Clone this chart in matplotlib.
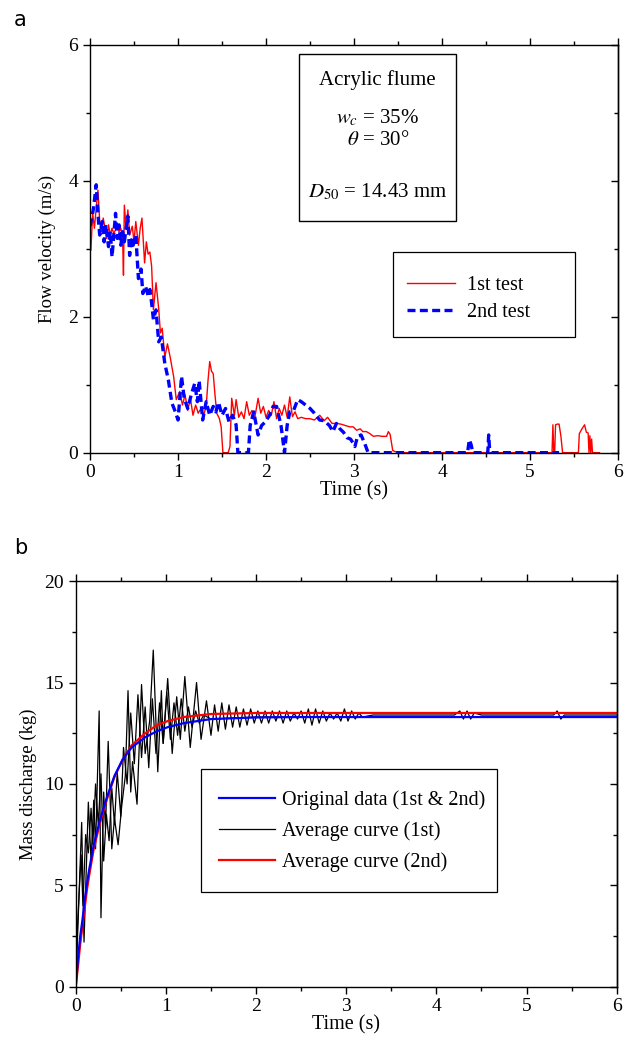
import matplotlib
matplotlib.use('agg')
import matplotlib.pyplot as plt
from matplotlib.patches import Rectangle
from matplotlib.ticker import MultipleLocator

plt.rcParams['font.family'] = ['Liberation Serif', 'DejaVu Serif']
plt.rcParams['mathtext.fontset'] = 'stix'
plt.rcParams['font.size'] = 14

# ---- panel a: flow velocity ----
t1 = [0.01, 0.03, 0.05, 0.07, 0.09, 0.11, 0.13, 0.15, 0.17, 0.19, 0.21, 0.23, 0.25, 0.27, 0.29,
      0.31, 0.33, 0.35, 0.37, 0.38, 0.39, 0.41, 0.43, 0.45, 0.48, 0.50, 0.52, 0.55, 0.57, 0.59,
      0.62, 0.64, 0.66, 0.68, 0.70, 0.72, 0.75, 0.78, 0.80, 0.82, 0.85, 0.88, 0.91, 0.95, 0.98,
      1.02, 1.05, 1.08, 1.11, 1.14, 1.17, 1.20, 1.23, 1.26, 1.29, 1.32, 1.34, 1.36, 1.38, 1.40,
      1.42, 1.44, 1.47, 1.49, 1.51, 1.53, 1.57, 1.59, 1.61, 1.64, 1.66, 1.69, 1.72, 1.75, 1.78,
      1.81, 1.84, 1.87, 1.91, 1.94, 1.97, 2.00, 2.03, 2.06, 2.09, 2.12, 2.15, 2.18, 2.21, 2.24,
      2.27, 2.30, 2.33, 2.36, 2.40, 2.45, 2.50, 2.55, 2.61, 2.66, 2.70, 2.75, 2.80, 2.85, 2.90,
      2.95, 2.99, 3.03, 3.07, 3.10, 3.14, 3.18, 3.22, 3.27, 3.32, 3.37, 3.39, 3.41, 3.44, 3.50,
      4.00, 4.50, 5.00, 5.25, 5.26, 5.27, 5.28, 5.29, 5.31, 5.33, 5.35, 5.37, 5.45, 5.55, 5.56,
      5.59, 5.62, 5.64, 5.66, 5.67, 5.68, 5.69, 5.70, 5.71, 5.75, 5.79]
v1 = [2.98, 3.52, 3.30, 3.60, 3.86, 3.40, 3.25, 3.45, 3.30, 3.15, 3.35, 3.20, 3.30, 3.22, 3.28,
      3.30, 3.25, 3.30, 3.15, 2.61, 3.64, 3.30, 3.57, 3.20, 3.33, 3.10, 3.40, 3.05, 3.30, 3.45,
      2.79, 3.10, 2.92, 2.95, 2.74, 2.10, 2.50, 2.12, 1.76, 1.83, 1.41, 1.60, 1.41, 1.12, 0.78,
      0.90, 0.70, 0.85, 0.62, 0.80, 0.55, 0.70, 0.58, 0.65, 0.55, 0.68, 1.05, 1.34, 1.20, 1.16,
      0.85, 0.58, 0.50, 0.38, 0.00, 0.00, 0.00, 0.09, 0.80, 0.55, 0.78, 0.52, 0.60, 0.50, 0.75,
      0.55, 0.62, 0.50, 0.80, 0.58, 0.68, 0.52, 0.62, 0.55, 0.75, 0.50, 0.65, 0.55, 0.70, 0.52,
      0.82, 0.53, 0.60, 0.50, 0.52, 0.50, 0.50, 0.48, 0.55, 0.47, 0.52, 0.43, 0.43, 0.42, 0.40,
      0.38, 0.38, 0.33, 0.35, 0.31, 0.31, 0.28, 0.24, 0.25, 0.24, 0.24, 0.31, 0.27, 0.03, 0.00,
      0.00, 0.00, 0.00, 0.00, 0.41, 0.00, 0.00, 0.41, 0.42, 0.42, 0.25, 0.00, 0.00, 0.00, 0.28,
      0.35, 0.41, 0.30, 0.29, 0.00, 0.25, 0.00, 0.20, 0.00, 0.00, 0.00]

t2 = [0.00, 0.02, 0.04, 0.07, 0.09, 0.11, 0.14, 0.16, 0.18, 0.21, 0.23, 0.25, 0.27, 0.29, 0.31,
      0.33, 0.35, 0.37, 0.39, 0.41, 0.43, 0.45, 0.47, 0.49, 0.52, 0.55, 0.58, 0.60, 0.63, 0.66,
      0.68, 0.70, 0.72, 0.75, 0.78, 0.81, 0.85, 0.89, 0.93, 0.97, 1.00, 1.04, 1.07, 1.11, 1.15,
      1.19, 1.22, 1.24, 1.28, 1.32, 1.36, 1.40, 1.43, 1.46, 1.50, 1.54, 1.58, 1.62, 1.66, 1.68,
      1.80, 1.82, 1.86, 1.91, 1.95, 1.99, 2.04, 2.08, 2.12, 2.17, 2.21, 2.24, 2.27, 2.31, 2.36,
      2.40, 2.45, 2.50, 2.55, 2.61, 2.66, 2.72, 2.76, 2.80, 2.84, 2.88, 2.92, 2.96, 2.99, 3.01,
      3.04, 3.08, 3.12, 3.16, 3.50, 4.00, 4.29, 4.31, 4.33, 4.35, 4.50, 4.52, 4.53, 4.54, 4.56,
      5.00, 5.33]
v2 = [3.33, 3.45, 3.60, 3.94, 3.50, 3.20, 3.40, 3.10, 3.35, 3.03, 3.25, 2.88, 3.20, 3.52, 3.15,
      3.35, 3.05, 3.25, 3.10, 3.30, 3.48, 2.90, 3.13, 3.05, 3.20, 2.56, 2.70, 2.34, 2.45, 2.31,
      2.40, 2.20, 1.96, 2.10, 1.63, 1.70, 1.31, 1.07, 0.73, 0.60, 0.48, 1.12, 0.80, 0.65, 0.85,
      1.02, 0.75, 1.06, 0.48, 0.75, 0.55, 0.68, 0.60, 0.74, 0.55, 0.65, 0.45, 0.55, 0.41, 0.00,
      0.00, 0.40, 0.60, 0.26, 0.40, 0.45, 0.55, 0.68, 0.68, 0.40, 0.00, 0.40, 0.60, 0.61, 0.78,
      0.75, 0.70, 0.65, 0.58, 0.48, 0.47, 0.40, 0.31, 0.43, 0.35, 0.30, 0.22, 0.20, 0.14, 0.09,
      0.24, 0.26, 0.14, 0.00, 0.00, 0.00, 0.00, 0.19, 0.12, 0.00, 0.00, 0.00, 0.26, 0.05, 0.00,
      0.00, 0.00]

# ---- panel b: mass discharge ----
tb_s = [0.0, 0.025, 0.05, 0.075, 0.1, 0.125, 0.15, 0.2, 0.27, 0.35, 0.43, 0.52, 0.62, 0.77,
        0.9, 1.02, 1.2, 1.5, 2.0, 2.5, 6.0]
mb_blue = [0.0, 1.4, 2.5, 3.3, 4.3, 5.1, 5.8, 7.0, 8.25, 9.4, 10.4, 11.2, 11.8, 12.3,
           12.6, 12.8, 13.0, 13.2, 13.28, 13.3, 13.3]
mb_red = [0.0, 1.0, 2.1, 3.0, 3.9, 4.8, 5.5, 6.8, 8.1, 9.3, 10.35, 11.2, 11.9, 12.5,
          12.9, 13.1, 13.3, 13.45, 13.5, 13.5, 13.5]

tA = [0.0, 0.066, 0.092, 0.14, 0.17, 0.20, 0.22, 0.26, 0.28, 0.31, 0.33, 0.36, 0.40, 0.43,
      0.47, 0.51, 0.55, 0.58, 0.61, 0.63, 0.68, 0.73, 0.77, 0.82, 0.86, 0.91, 0.95, 0.97,
      1.02, 1.07, 1.12, 1.16, 1.21, 1.27, 1.34, 1.39, 1.45, 1.50, 1.54, 1.58, 1.62, 1.66,
      1.70, 1.74, 1.78, 1.82, 1.86, 1.90, 1.94, 1.98, 2.02, 2.06, 2.10, 2.14, 2.18, 2.22,
      2.26, 2.30, 2.34, 2.38, 2.42, 2.46, 2.50, 2.54, 2.58, 2.62, 2.66, 2.70, 2.74, 2.78,
      2.82, 2.86, 2.90, 2.94, 2.98, 3.02, 3.06, 3.10, 3.14, 3.18, 3.30, 4.20, 4.26, 4.30,
      4.34, 4.38, 4.42, 4.50, 5.30, 5.34, 5.38, 5.42, 6.0]
mA_ = [0.0, 8.1, 2.2, 9.1, 6.2, 9.2, 6.8, 13.6, 3.4, 9.6, 7.8, 12.1, 6.8, 8.3,
       7.0, 8.9, 10.4, 14.6, 9.6, 11.1, 9.0, 14.9, 11.5, 13.1, 16.6, 10.6, 14.6, 12.0,
       15.2, 11.5, 14.3, 12.2, 15.3, 11.8, 15.0, 12.2, 14.1, 12.4, 13.9, 12.6, 14.0, 12.7,
       13.9, 12.8, 13.8, 12.8, 13.7, 12.9, 13.7, 13.0, 13.6, 13.0, 13.6, 13.0, 13.6, 13.1,
       13.6, 13.0, 13.6, 13.1, 13.5, 13.2, 13.6, 13.0, 13.7, 12.9, 13.7, 13.0, 13.6, 13.1,
       13.5, 13.2, 13.5, 13.1, 13.7, 13.1, 13.6, 13.2, 13.5, 13.3, 13.4, 13.4, 13.6, 13.2,
       13.6, 13.2, 13.5, 13.4, 13.4, 13.6, 13.2, 13.4, 13.4]

tB = [0.0, 0.02, 0.04, 0.06, 0.08, 0.11, 0.14, 0.17, 0.19, 0.22, 0.25, 0.28, 0.31, 0.34,
      0.37, 0.40, 0.43, 0.46, 0.50, 0.53, 0.57, 0.61, 0.65, 0.69, 0.73, 0.77, 0.81, 0.85,
      0.89, 0.93, 0.97, 1.01, 1.05, 1.09, 1.13, 1.17, 1.21, 1.25, 1.29, 1.33, 1.37, 1.42,
      1.50, 2.0, 6.0]
mB = [0.0, 3.0, 4.8, 6.5, 4.0, 7.5, 6.6, 8.8, 7.0, 10.0, 8.0, 10.5, 6.2, 8.5,
      7.2, 9.8, 8.0, 10.6, 8.4, 11.8, 10.0, 13.5, 11.0, 14.4, 11.3, 13.8, 10.8, 14.2,
      11.5, 14.0, 12.0, 14.5, 12.2, 14.0, 12.4, 14.2, 12.6, 13.8, 12.8, 13.6, 13.0, 13.4,
      13.2, 13.3, 13.3]

fig = plt.figure(figsize=(6.3, 10.51), dpi=100)

ax1 = fig.add_axes([0.1429, 0.5693, 0.8381, 0.3882])
ax1.plot(t1, v1, color='red', lw=1.0, label='1st test')
ax1.plot(t2, v2, color='blue', lw=2.4, ls=(0, (2.4, 1.3)), label='2nd test')
ax1.set_xlim(0, 6)
ax1.set_ylim(0, 6)
ax1.xaxis.set_major_locator(MultipleLocator(1))
ax1.xaxis.set_minor_locator(MultipleLocator(0.5))
ax1.yaxis.set_major_locator(MultipleLocator(2))
ax1.yaxis.set_minor_locator(MultipleLocator(1))
ax1.set_xlabel('Time (s)', labelpad=0, fontsize=14.5)
ax1.set_ylabel('Flow velocity (m/s)', labelpad=9, fontsize=13.5)
ax1.add_patch(Rectangle((0.396, 0.569), 0.297, 0.408, transform=ax1.transAxes,
                        fill=False, ec='black', lw=1.0))
ax1.text(0.545, 0.913, 'Acrylic flume', transform=ax1.transAxes, ha='center', va='center', fontsize=15)
ax1.text(0.545, 0.820, r'$w_c$ = 35%', transform=ax1.transAxes, ha='center', va='center', fontsize=15)
ax1.text(0.545, 0.764, r'$\theta$ = 30°', transform=ax1.transAxes, ha='center', va='center', fontsize=15)
ax1.text(0.545, 0.640, r'$D_{50}$ = 14.43 mm', transform=ax1.transAxes, ha='center', va='center', fontsize=15)
# legend frame drawn separately (padding in the original is uneven)
ax1.add_patch(Rectangle((0.574, 0.284), 0.345, 0.208, transform=ax1.transAxes,
                        fill=False, ec='black', lw=0.9, zorder=5))
ax1.legend(loc='center left', bbox_to_anchor=(0.600, 0.377), borderaxespad=0,
           borderpad=0, frameon=False, handlelength=2.4, labelspacing=0.4,
           handletextpad=0.6, fontsize=14.5)

ax2 = fig.add_axes([0.1202, 0.0612, 0.8587, 0.3858])
ax2.plot(tA, mA_, color='black', lw=0.9)
ax2.plot(tB, mB, color='black', lw=0.9)
ax2.plot(tb_s, mb_red, color='red', lw=1.6)
ax2.plot(tb_s, mb_blue, color='blue', lw=1.6)
h_blue, = ax2.plot([], [], color='blue', lw=1.6, label='Original data (1st & 2nd)')
h_black, = ax2.plot([], [], color='black', lw=0.9, label='Average curve (1st)')
h_red, = ax2.plot([], [], color='red', lw=1.6, label='Average curve (2nd)')
ax2.set_xlim(0, 6)
ax2.set_ylim(0, 20)
ax2.xaxis.set_major_locator(MultipleLocator(1))
ax2.xaxis.set_minor_locator(MultipleLocator(0.5))
ax2.yaxis.set_major_locator(MultipleLocator(5))
ax2.yaxis.set_minor_locator(MultipleLocator(2.5))
ax2.set_xlabel('Time (s)', labelpad=0, fontsize=14.5)
ax2.set_ylabel('Mass discharge (kg)', labelpad=5, fontsize=13.5)
ax2.add_patch(Rectangle((0.231, 0.233), 0.548, 0.304, transform=ax2.transAxes,
                        fill=False, ec='black', lw=0.9, zorder=5))
ax2.legend(handles=[h_blue, h_black, h_red], loc='center left',
           bbox_to_anchor=(0.265, 0.384), borderaxespad=0, borderpad=0,
           frameon=False, handlelength=2.8, labelspacing=0.55, handletextpad=0.3,
           fontsize=14.5)

for ax, ymaj, ymin in ((ax1, 2, 1), (ax2, 5, 2.5)):
    for s in ax.spines.values():
        s.set_linewidth(1.0)
    ax.tick_params(which='both', direction='out', top=True, right=False, width=1.0,
                   labelsize=14)
    ax.tick_params(which='major', length=5)
    ax.tick_params(which='minor', length=3)
    # right-hand ticks point inwards in the original
    sec = ax.secondary_yaxis('right')
    sec.yaxis.set_major_locator(MultipleLocator(ymaj))
    sec.yaxis.set_minor_locator(MultipleLocator(ymin))
    sec.tick_params(which='both', direction='in', labelright=False, width=1.0)
    sec.tick_params(which='major', length=5)
    sec.tick_params(which='minor', length=3)
    sec.spines['right'].set_linewidth(1.0)

fig.text(0.022, 0.981, 'a', family='DejaVu Sans', fontsize=15, va='center')
fig.text(0.022, 0.479, 'b', family='DejaVu Sans', fontsize=15, va='center')

fig.savefig('out.png', dpi=100)
